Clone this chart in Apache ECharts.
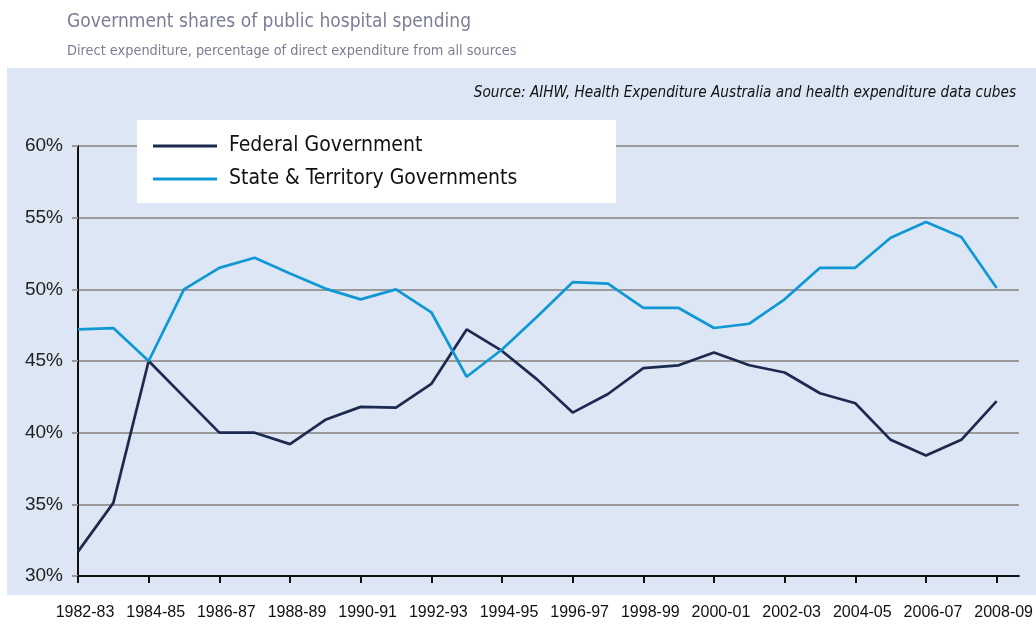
<!DOCTYPE html>
<html>
<head>
<meta charset="utf-8">
<script src="https://cdn.jsdelivr.net/npm/echarts@6/dist/echarts.min.js"></script>
<style>
html,body{margin:0;padding:0;background:#fff;}
#c{width:1036px;height:626px;}
</style>
</head>
<body>
<div id="c"></div>
<script>
const categories = ['1982-83','1983-84','1984-85','1985-86','1986-87','1987-88','1988-89','1989-90','1990-91','1991-92','1992-93','1993-94','1994-95','1995-96','1996-97','1997-98','1998-99','1999-00','2000-01','2001-02','2002-03','2003-04','2004-05','2005-06','2006-07','2007-08','2008-09'];
const federal = [31.7,35.1,45.0,42.5,40.0,40.0,39.2,40.9,41.8,41.75,43.4,47.2,45.7,43.7,41.4,42.7,44.5,44.7,45.6,44.7,44.2,42.75,42.05,39.5,38.4,39.5,42.2];
const stateTerritory = [47.2,47.3,45.0,50.0,51.5,52.2,51.1,50.05,49.3,50.0,48.4,43.9,45.8,48.1,50.5,50.4,48.7,48.7,47.3,47.6,49.3,51.5,51.5,53.6,54.7,53.65,50.1];
const yTicks = [30,35,40,45,50,55,60];
const seriesNames = ['Federal Government','State & Territory Governments'];

const narrow = '"Liberation Sans Narrow", "DejaVu Sans Condensed", Arial, sans-serif';
const sans = '"Liberation Sans", Arial, sans-serif';
const labelTicks = categories.map((c,i)=>i).filter(i=>i%2===0);

const chart = echarts.init(document.getElementById('c'), null, {renderer:'canvas'});
chart.setOption({
  animation:false,
  backgroundColor:'#ffffff',
  graphic:[
    {type:'rect', z:-10, shape:{x:7,y:68,width:1029,height:527}, style:{fill:'#dce6f4'}, silent:true},
    {type:'rect', z:5, shape:{x:137,y:120,width:479,height:83}, style:{fill:'#ffffff'}, silent:true}
  ],
  title:[
    {text:'Government shares of public hospital spending', left:67, top:13, padding:0,
     textStyle:{fontFamily:narrow, fontSize:19, fontWeight:'normal', color:'#7b7d95'}},
    {text:'Direct expenditure, percentage of direct expenditure from all sources', left:67, top:44, padding:0,
     textStyle:{fontFamily:narrow, fontSize:14.4, fontWeight:'normal', color:'#7b7d95'}},
    {text:'Source: AIHW, Health Expenditure Australia and health expenditure data cubes', right:20, top:86, padding:0,
     textStyle:{fontFamily:narrow, fontSize:15.2, fontStyle:'italic', fontWeight:'normal', color:'#111'}}
  ],
  legend:{
    orient:'vertical', left:153, top:133, z:10,
    icon:'rect', itemWidth:64, itemHeight:3, itemGap:7, padding:0,
    textStyle:{fontFamily:narrow, fontSize:21, color:'#111', lineHeight:26, padding:[0,0,0,7]},
    data:seriesNames
  },
  grid:{left:78, right:11, top:146, bottom:50, containLabel:false},
  xAxis:{
    type:'value', min:0, max:26.63,
    axisLine:{show:true, lineStyle:{color:'#111', width:2}},
    axisTick:{show:true, customValues:labelTicks, length:7, inside:false, lineStyle:{color:'#111', width:2}},
    splitLine:{show:false},
    axisLabel:{customValues:labelTicks, formatter:v=>categories[Math.round(v)]||'', fontFamily:sans, fontSize:16, color:'#111', margin:29, padding:[0,0,0,14]}
  },
  yAxis:{
    type:'value', min:30, max:60, interval:5,
    axisLine:{show:true, lineStyle:{color:'#111', width:2}},
    axisTick:{show:true, length:6, lineStyle:{color:'#999', width:2}},
    splitLine:{show:true, lineStyle:{color:'#9a9a9a', width:2}},
    axisLabel:{formatter:'{value}%', fontFamily:sans, fontSize:19, color:'#222', margin:15}
  },
  series:[
    {name:seriesNames[0], type:'line', symbol:'none', z:3,
     data:federal.map((v,i)=>[i,v]),
     lineStyle:{color:'#1b2a4e', width:2.7}, itemStyle:{color:'#1b2a4e'}},
    {name:seriesNames[1], type:'line', symbol:'none', z:3,
     data:stateTerritory.map((v,i)=>[i,v]),
     lineStyle:{color:'#0f98d4', width:2.7}, itemStyle:{color:'#0f98d4'}}
  ]
});
</script>
</body>
</html>
